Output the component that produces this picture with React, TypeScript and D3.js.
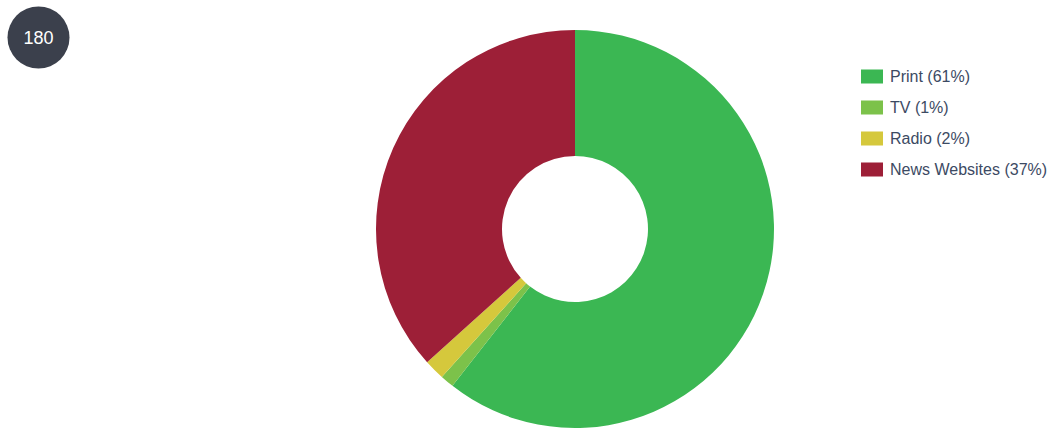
import React from "react";
import * as d3 from "d3";

const categories = ["Print", "TV", "Radio", "News Websites"];
const counts = [109, 2, 3, 66];
const colors = ["#3bb753", "#7cc24a", "#d5c83c", "#9d1f37"];
const total = 180;

export default function App() {
  const width = 1057;
  const height = 433;
  const cx = 575;
  const cy = 229;
  const outer = 199;
  const inner = 73;
  const sum = d3.sum(counts);
  const pie = d3.pie<number>().sort(null).value((d) => d);
  const arcs = pie(counts);
  const arc = d3.arc<d3.PieArcDatum<number>>().innerRadius(inner).outerRadius(outer);
  const legendY = d3.scaleBand<number>().domain(d3.range(categories.length)).range([61, 185]);
  return (
    <svg width={width} height={height} style={{ position: "absolute", left: 0, top: 0 }}>
      <rect width={width} height={height} fill="#ffffff" />
      <circle cx={38.5} cy={37.5} r={31} fill="#3b404c" />
      <text x={38.5} y={37.5} dy="0.35em" textAnchor="middle" fill="#ffffff" fontFamily="Liberation Sans, Arial, sans-serif" fontSize={18}>
        {total}
      </text>
      <g transform={`translate(${cx},${cy})`}>
        {arcs.map((a, i) => (
          <path key={i} d={arc(a) || ""} fill={colors[i]} />
        ))}
      </g>
      <g fontFamily="Liberation Sans, Arial, sans-serif" fontSize={16} fill="#3c4a63">
        {categories.map((c, i) => {
          const y = (legendY(i) || 0) + legendY.bandwidth() / 2;
          return (
            <g key={c}>
              <rect x={861} y={y - 7} width={22} height={14} fill={colors[i]} />
              <text x={890} y={y} dy="0.35em">
                {`${c} (${Math.round((counts[i] / sum) * 100)}%)`}
              </text>
            </g>
          );
        })}
      </g>
    </svg>
  );
}
